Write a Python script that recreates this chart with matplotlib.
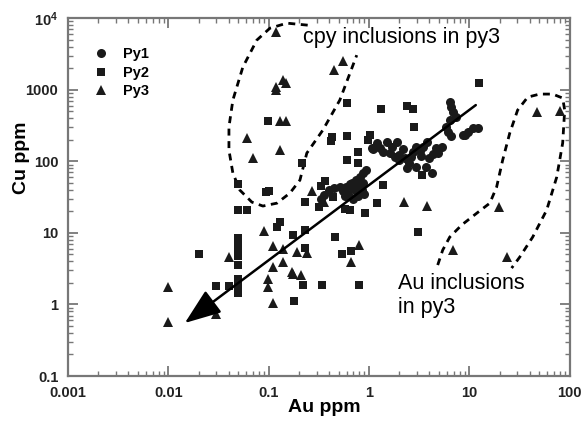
import numpy as np
import matplotlib
matplotlib.use("Agg")
import matplotlib.pyplot as plt
from matplotlib.ticker import FixedLocator, LogLocator, NullFormatter

plt.rcParams['font.family'] = ['Liberation Sans', 'DejaVu Sans']
plt.rcParams['mathtext.fontset'] = 'custom'
plt.rcParams['mathtext.bf'] = 'Liberation Sans:bold'
plt.rcParams['mathtext.rm'] = 'Liberation Sans:bold'

# Py1 (circles): Au ppm, Cu ppm
py1_au = [6.4, 6.6, 6.9, 7.4, 6.4, 5.9, 6.15, 6.6, 9.0, 9.7, 10.9, 12.2, 5.3, 4.7, 4.9, 4.35,
          3.75, 3.45, 3.2, 2.75, 2.65, 2.45, 2.95, 1.9, 1.5, 1.2, 1.28, 1.38, 1.62, 1.8, 2.0, 2.27,
          2.5, 2.95, 0.94, 0.87, 0.81, 0.75, 0.67, 0.59, 0.51, 0.45, 0.40, 0.36, 0.33, 0.55, 0.62,
          0.70, 0.75, 0.80, 0.85, 0.90, 0.65, 0.58, 0.70, 0.78, 0.88, 2.4, 3.7, 4.2, 2.0, 8.6, 4.0,
          3.3, 1.1, 1.7, 2.2, 1.06]
py1_cu = [680, 577, 491, 418, 376, 303, 258, 225, 232, 258, 288, 293, 160, 151, 131, 126,
          187, 160, 140, 136, 116, 104, 160, 187, 187, 178, 151, 136, 129, 116, 122, 110,
          94, 84, 75, 68, 61, 55, 49, 44, 44, 43, 40, 34, 30, 38, 35,
          42, 38, 46, 40, 35, 48, 33, 30, 33, 50, 80, 82, 68, 104, 232, 110,
          120, 150, 160, 150, 151]

# Py2 (squares)
py2_au = [0.020, 0.030, 0.040, 0.049, 0.049, 0.049, 0.049, 0.049, 0.049, 0.049, 0.049, 0.049,
          0.049, 0.061, 0.05, 0.095, 0.10, 0.129, 0.121, 0.174, 0.18, 0.098,
          0.60, 1.31, 2.38, 2.73, 2.79, 0.426, 0.42, 0.60, 1.02, 0.97, 0.77, 0.61, 0.77, 0.214, 12.4,
          0.23, 0.331, 0.363, 0.316, 0.436, 0.574, 0.644, 0.908, 1.2, 1.37,
          3.06, 3.36, 0.23, 0.456, 0.23, 0.536, 0.659, 0.219, 0.339, 0.79]
py2_cu = [5.1, 1.8, 1.8, 8.5, 7.0, 6.0, 4.8, 3.5, 2.3, 2.0, 1.7, 1.45,
          21, 21, 48, 37, 39, 14, 12, 9.3, 1.1, 364,
          650, 535, 590, 535, 300, 218, 191, 225, 232, 198, 134, 104, 94, 94, 1240,
          27, 45, 53, 23, 31.6, 21.5, 21, 18.9, 26, 47,
          10.3, 64, 10.9, 8.7, 6.1, 5.1, 5.6, 1.87, 1.87, 1.87]

# Py3 (triangles)
py3_au = [0.01, 0.01, 0.030, 0.040, 0.089, 0.11, 0.11, 0.098, 0.098, 0.11, 0.138, 0.138, 0.174, 0.19,
          0.118, 0.138, 0.148, 0.118, 0.118, 0.129, 0.148, 0.061, 0.070, 0.129,
          0.446, 0.548, 0.27, 0.36, 0.24, 0.79, 0.66, 0.17, 0.21,
          2.22, 3.77, 19.6, 6.8, 23.6, 46.9, 81]
py3_cu = [1.75, 0.57, 0.73, 4.6, 10.6, 6.5, 3.3, 2.3, 1.75, 1.05, 3.9, 5.9, 2.7, 5.4,
          6400, 1360, 1240, 990, 1080, 364, 364, 211, 111, 143,
          1880, 2500, 38, 27, 5.3, 6.8, 3.9, 2.84, 2.6,
          27, 23.7, 23, 5.8, 4.6, 487, 502]

# dashed outline: cpy inclusions in py3
cpy_au = [0.245, 0.152, 0.103, 0.0762, 0.0553, 0.044, 0.0402, 0.0402, 0.044, 0.0516, 0.068,
          0.0876, 0.121, 0.163, 0.205, 0.240, 0.347, 0.512, 0.755]
cpy_cu = [7980, 8510, 7240, 4930, 2070, 716, 301, 143, 68.4, 39.6, 26.9,
          23.7, 26, 36, 54.6, 130, 273, 716, 3040]

# dashed outline: Au inclusions in py3
auinc_au = [4.84, 5.43, 6.38, 8.40, 11.9, 16.0, 18.7, 21.5, 25.3, 30.3, 38.2, 50.3, 67.7, 85.2,
            89.2, 85.2, 74.3, 59.0, 42.8, 31.8, 26.4]
auinc_cu = [3.55, 5.75, 8.73, 12.9, 18.9, 26, 43.6, 104, 248, 519, 788, 869, 869, 764,
            519, 180, 60.1, 20.8, 8.73, 4.59, 3.22]

# trend arrow (tail -> head)
arrow_au = [11.6, 0.0146]
arrow_cu = [610, 0.55]

x_ticks = [0.001, 0.01, 0.1, 1, 10, 100]
x_labels = ["0.001", "0.01", "0.1", "1", "10", "100"]
y_ticks = [0.1, 1, 10, 100, 1000, 10000]
y_labels = ["0.1", "1", "10", "100", "1000", r"$\mathbf{10^4}$"]

fig = plt.figure(figsize=(5.82, 4.22), dpi=100)
ax = fig.add_axes([0.1168, 0.109, 0.862, 0.848])
ax.set_xscale("log"); ax.set_yscale("log")
ax.set_xlim(0.001, 100); ax.set_ylim(0.1, 10000)

mk = "#1a1a1a"
ax.plot(py1_au, py1_cu, "o", color=mk, ms=6.5, mew=0, label="Py1", zorder=4)
ax.plot(py2_au, py2_cu, "s", color=mk, ms=6, mew=0, label="Py2", zorder=4)
ax.plot(py3_au, py3_cu, "^", color=mk, ms=6.5, mew=0, label="Py3", zorder=4)

ax.plot(cpy_au, cpy_cu, color="black", lw=2, ls=(0, (2.5, 2)), zorder=3)
ax.plot(auinc_au, auinc_cu, color="black", lw=2, ls=(0, (2.5, 2)), zorder=3)

ax.annotate("", xy=(arrow_au[1], arrow_cu[1]), xytext=(arrow_au[0], arrow_cu[0]),
            arrowprops=dict(arrowstyle="-|>,head_length=1.6,head_width=0.6", color="black",
                            lw=1.8, mutation_scale=14, shrinkA=0, shrinkB=0), zorder=5)

ax.text(0.219, 5430, "cpy inclusions in py3", fontsize=15.5, va="center", ha="left")
ax.text(1.94, 2.74, "Au inclusions\nin py3", fontsize=15.5, va="top", ha="left", linespacing=1.15)

# axes styling
for s in ax.spines.values():
    s.set_color("#777777"); s.set_linewidth(1.6)
ax.xaxis.set_major_locator(FixedLocator(x_ticks))
ax.set_xticklabels(x_labels)
ax.yaxis.set_major_locator(FixedLocator(y_ticks))
ax.set_yticklabels(y_labels)
ax.xaxis.set_minor_locator(LogLocator(base=10, subs=np.arange(2, 10)))
ax.yaxis.set_minor_locator(LogLocator(base=10, subs=np.arange(2, 10)))
ax.xaxis.set_minor_formatter(NullFormatter()); ax.yaxis.set_minor_formatter(NullFormatter())
ax.tick_params(which="both", direction="in", top=True, right=True, color="#777777")
ax.tick_params(which="major", length=7, width=1.3, labelsize=10.5, pad=7, labelcolor="#222222")
ax.tick_params(which="minor", length=3.5, width=1.0)
for lab in ax.get_xticklabels() + ax.get_yticklabels():
    lab.set_fontweight("bold")

ax.set_xlabel("Au ppm", fontsize=14, fontweight="bold")
ax.set_ylabel("Cu ppm", fontsize=14, fontweight="bold")
ax.xaxis.set_label_coords(0.51, -0.065)
ax.yaxis.set_label_coords(-0.075, 0.61)

leg = ax.legend(loc="upper left", bbox_to_anchor=(0.025, 0.955), frameon=False,
                handlelength=1.0, handletextpad=1.0, labelspacing=0.3,
                prop=dict(size=10.5, weight="bold"))

fig.savefig("out.png", dpi=100)
